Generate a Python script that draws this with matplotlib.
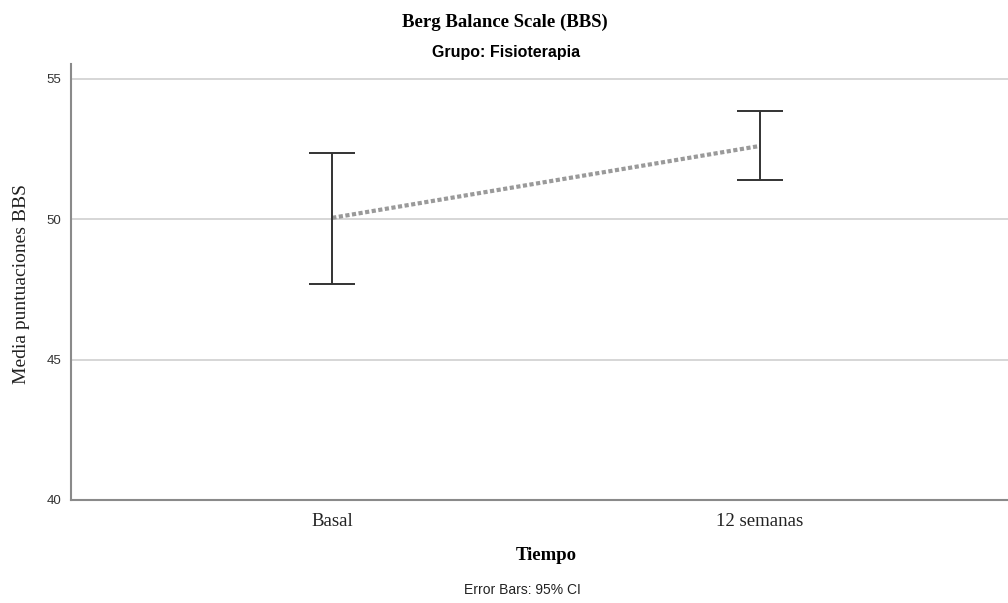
import numpy as np
from matplotlib import pyplot as plt

categories = ["Basal", "12 semanas"]
means = [50.05, 52.61]
ci_low = [47.70, 51.40]
ci_high = [52.37, 53.86]
y_ticks = [40, 45, 50, 55]

fig = plt.figure(figsize=(10.08, 6.03), dpi=100)
ax = fig.add_axes([71 / 1008, 1 - 500 / 603, 950 / 1008, (500 - 79) / 603 * 1.035])

x = np.arange(len(categories))
ax.set_xlim(-0.611, 1.611)
ax.set_ylim(40, 55.52)

for v in [45, 50, 55]:
    ax.axhline(v, color="#cfcfcf", lw=1.2, zorder=0)

# dotted line joining the means
ax.plot(x, means, linestyle=(0, (1, 0.6)), color="#9a9a9a", lw=3, zorder=2)

err = [np.array(means) - np.array(ci_low), np.array(ci_high) - np.array(means)]
ax.errorbar(x, means, yerr=err, fmt="none", ecolor="#333333", elinewidth=1.4,
            capsize=23 * 0.72, capthick=1.4, zorder=3)

ax.set_xticks(x)
ax.set_xticklabels(categories, family="Liberation Serif", fontsize=13.5, color="#222222")
ax.set_yticks(y_ticks)
ax.set_yticklabels([str(t) for t in y_ticks], family="Liberation Sans", fontsize=9.5, color="#333333")
ax.tick_params(axis="both", length=0)
ax.tick_params(axis="x", pad=9)
ax.tick_params(axis="y", pad=7)

for s in ["top", "right"]:
    ax.spines[s].set_visible(False)
for s in ["left", "bottom"]:
    ax.spines[s].set_color("#8a8a8a")
    ax.spines[s].set_linewidth(1.5)

fig.text(22 / 1008, 1 - 284 / 603, "Media puntuaciones BBS", rotation=90, ha="center", va="center",
         family="Liberation Serif", fontsize=14, color="#222222")
fig.text(546 / 1008, 1 - 556 / 603, "Tiempo", ha="center", va="center",
         family="Liberation Serif", fontsize=13.5, fontweight="bold")
fig.text(522 / 1008, 1 - 590 / 603, "Error Bars: 95% CI", ha="center", va="center",
         family="Liberation Sans", fontsize=10, color="#222222")
fig.text(505 / 1008, 1 - 22 / 603, "Berg Balance Scale (BBS)", ha="center", va="center",
         family="Liberation Serif", fontsize=13.5, fontweight="bold")
fig.text(506 / 1008, 1 - 53 / 603, "Grupo: Fisioterapia", ha="center", va="center",
         family="Liberation Sans", fontsize=11.5, fontweight="bold")

fig.savefig("out.png", dpi=100)
